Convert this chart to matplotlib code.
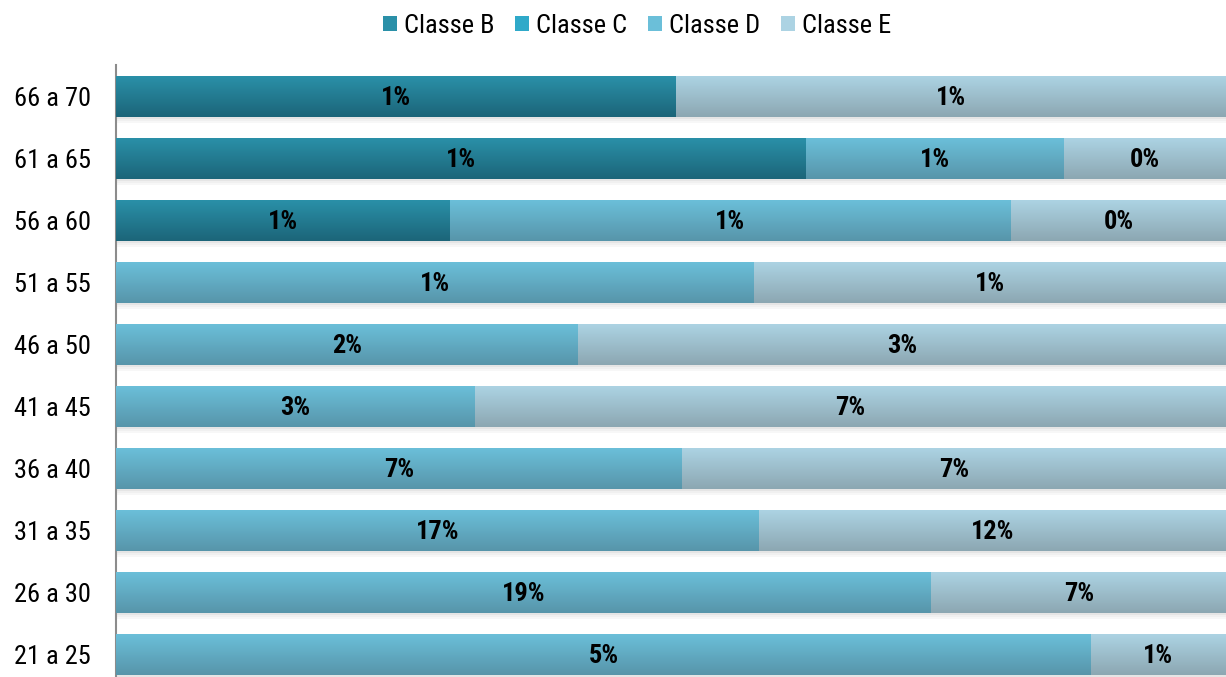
import numpy as np
import matplotlib
matplotlib.use("Agg")
import matplotlib.pyplot as plt
from matplotlib.colors import LinearSegmentedColormap
from matplotlib.patches import Rectangle

plt.rcParams['font.family'] = ['Roboto Condensed', 'Liberation Sans', 'DejaVu Sans']

categories = ["21 a 25", "26 a 30", "31 a 35", "36 a 40", "41 a 45",
              "46 a 50", "51 a 55", "56 a 60", "61 a 65", "66 a 70"]
series_names = ["Classe B", "Classe C", "Classe D", "Classe E"]
classe_b = [0.0, 0.0, 0.0, 0.0, 0.0, 0.0, 0.0, 0.66, 1.43, 0.6]
classe_c = [0.0, 0.0, 0.0, 0.0, 0.0, 0.0, 0.0, 0.0, 0.0, 0.0]
classe_d = [5.27, 19.1, 16.8, 7.14, 3.23, 2.29, 1.15, 1.11, 0.535, 0.0]
classe_e = [0.73, 6.9, 12.2, 6.86, 6.77, 3.21, 0.85, 0.425, 0.335, 0.59]

# (top colour, bottom colour) gradients
grads = [("#2a90a8", "#1c6579"),
         ("#2fa9c9", "#2386a0"),
         ("#6bbfd9", "#5795aa"),
         ("#acd3e3", "#8ca7b2")]

data = np.array([classe_b, classe_c, classe_d, classe_e])
totals = data.sum(axis=0)
shares = data / totals

fig = plt.figure(figsize=(12.26, 6.77), dpi=100)
ax = fig.add_axes([116/1226, 0.0, 1 - 116/1226, (677-65)/677])
y = np.arange(len(categories))
bar_h = 0.66

left = np.zeros(len(categories))
for i, name in enumerate(series_names):
    w = shares[i]
    # shadow
    for yi, (l, wi) in enumerate(zip(left, w)):
        if wi > 0:
            for k, a in enumerate([0.10, 0.06, 0.03]):
                ax.add_patch(Rectangle((l, yi - bar_h/2 - 0.03*(k+1)), wi, 0.03,
                                       facecolor="black", alpha=a, lw=0, zorder=1))
    bars = ax.barh(y, w, left=left, height=bar_h, color=grads[i][0],
                   edgecolor="none", label=name, zorder=2)
    cmap = LinearSegmentedColormap.from_list("g%d" % i, [grads[i][1], grads[i][0]])
    grad = np.linspace(0, 1, 64).reshape(-1, 1)
    for b, val, wi in zip(bars, data[i], w):
        if wi <= 0:
            continue
        x0, y0 = b.get_x(), b.get_y()
        im = ax.imshow(grad, aspect="auto", cmap=cmap, origin="lower",
                       extent=[x0, x0 + b.get_width(), y0, y0 + b.get_height()],
                       zorder=3, interpolation="bilinear")
        im.set_clip_path(b)
        ax.text(x0 + b.get_width()/2, y0 + b.get_height()/2 - 0.02,
                "%d%%" % int(np.floor(val + 0.5)), ha="center", va="center",
                fontsize=19, fontweight="bold", color="black", zorder=4)
    left = left + w

ax.set_xlim(0, 1)
ax.set_ylim(-0.363, 9.508)
ax.set_yticks(y)
ax.set_yticklabels(categories, fontsize=19)
ax.tick_params(axis="y", length=0, pad=18)
ax.set_xticks([])
for s in ["top", "right", "bottom"]:
    ax.spines[s].set_visible(False)
ax.spines["left"].set_color("#8c8c8c")
ax.spines["left"].set_linewidth(1.5)

handles = [Rectangle((0, 0), 1, 1, facecolor=grads[i][0], edgecolor="none")
           for i in range(4)]
fig.legend(handles, series_names, loc="center", bbox_to_anchor=(0.5196, 0.9616),
           ncol=4, frameon=False, fontsize=19, handlelength=0.53, handleheight=0.53,
           handletextpad=0.25, columnspacing=0.8)

fig.savefig("out.png", dpi=100)
